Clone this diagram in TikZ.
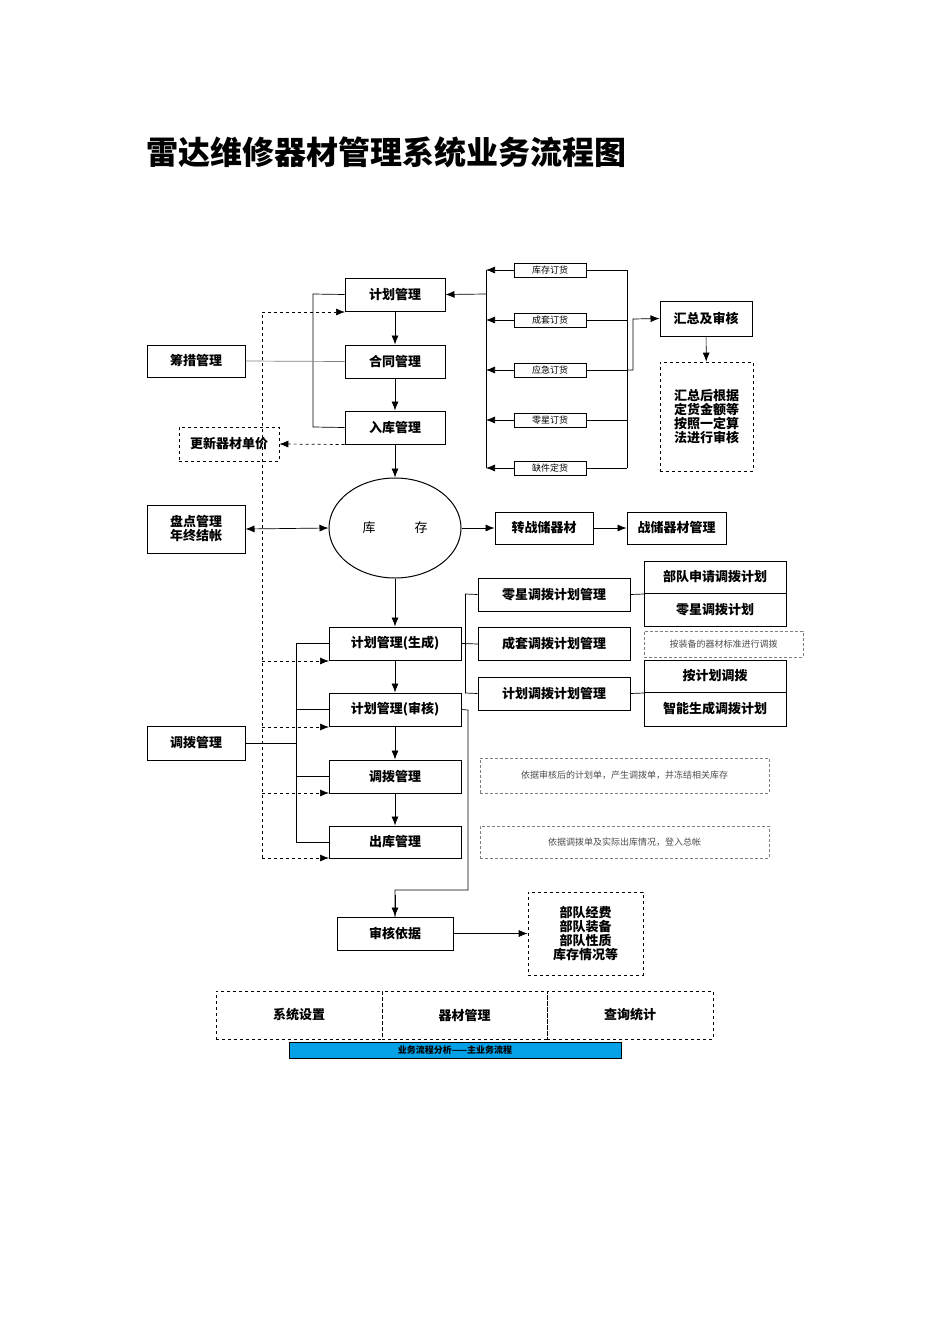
\documentclass[tikz,border=0pt]{standalone}
\usepackage{fontspec}
\setmainfont{Noto Sans CJK SC}
\usetikzlibrary{arrows.meta,shapes.geometric}
\begin{document}
\begin{tikzpicture}[x=1pt,y=-1pt,line width=0.7pt,
 bx/.style={draw,line width=1pt,minimum width=0pt,inner sep=0pt,font=\bfseries\fontsize{13}{14}\selectfont},
 sm/.style={draw,line width=1pt,inner sep=0pt,font=\fontsize{9}{10}\selectfont},
 db/.style={draw,dashed,inner sep=0pt},
 ar/.style={-{Latex[length=9pt,width=7pt]}}]
\useasboundingbox (0,0) rectangle (950,1344);
\node[anchor=west,font=\bfseries\fontsize{32}{34}\selectfont] (title) at (143,152) {雷达维修器材管理系统业务流程图};
\newcommand\bxat[6]{\node[#1,minimum width={(#4)-(#2)},minimum height={(#5)-(#3)}] (#6) at ({((#2)+(#4))/2},{((#3)+(#5))/2})}
\bxat{bx}{345}{278}{445}{311}{jh} {计划管理};
\bxat{bx}{345}{345}{445}{378}{ht} {合同管理};
\bxat{bx}{345}{411}{445}{444}{rk} {入库管理};
\bxat{bx}{147}{345}{245}{377}{cc} {筹措管理};
\bxat{db,font=\bfseries\fontsize{13}{14}\selectfont}{179}{427}{279}{461}{gx} {更新器材单价};
\foreach \y/\t/\n in {270/库存订货/o1,320/成套订货/o2,370/应急订货/o3,420/零星订货/o4,468/缺件定货/o5}{
 \bxat{sm}{514}{\y-7}{586}{\y+7}{\n} {\t};}
\bxat{bx}{660}{301}{752}{336}{hz} {汇总及审核};
\bxat{db,align=center,font=\bfseries\fontsize{13}{14}\selectfont}{660}{362}{753}{471}{hzt} {汇总后根据\\定货金额等\\按照一定算\\法进行审核};
\node[draw,line width=1pt,ellipse,minimum width=132,minimum height=100,inner sep=0pt,font=\fontsize{13}{14}\selectfont] (kc) at (395,528) {库\hspace{3em}存};
\bxat{bx,align=center}{147}{505}{245}{553}{pd} {盘点管理\\年终结帐};
\bxat{bx}{495}{512}{593}{544}{zz} {转战储器材};
\bxat{bx}{627}{512}{726}{544}{zc} {战储器材管理};
\bxat{bx}{329}{627}{461}{660}{p1} {计划管理(生成)};
\bxat{bx}{329}{693}{461}{726}{p2} {计划管理(审核)};
\bxat{bx}{329}{760}{461}{793}{p3} {调拨管理};
\bxat{bx}{329}{826}{461}{858}{p4} {出库管理};
\bxat{bx}{147}{726}{245}{760}{db} {调拨管理};
\bxat{bx}{478}{578}{630}{611}{r1} {零星调拨计划管理};
\bxat{bx}{478}{627}{630}{660}{r2} {成套调拨计划管理};
\bxat{bx}{478}{677}{630}{710}{r3} {计划调拨计划管理};
\bxat{bx}{644}{561}{786}{593}{s1} {部队申请调拨计划};
\bxat{bx}{644}{593}{786}{626}{s2} {零星调拨计划};
\bxat{bx}{644}{660}{786}{692}{s3} {按计划调拨};
\bxat{bx}{644}{692}{786}{726}{s4} {智能生成调拨计划};
\bxat{db,densely dashed,gray,text=gray!60!black,font=\fontsize{9}{10}\selectfont}{644}{631}{803}{657}{n1} {按装备的器材标准进行调拨};
\bxat{db,densely dashed,gray,text=gray!60!black,font=\fontsize{9}{10}\selectfont}{480}{758}{769}{793}{n2} {依据审核后的计划单，产生调拨单，并冻结相关库存};
\bxat{db,densely dashed,gray,text=gray!60!black,font=\fontsize{9}{10}\selectfont}{480}{826}{769}{858}{n3} {依据调拨单及实际出库情况，登入总帐};
\bxat{bx}{337}{917}{453}{950}{sh} {审核依据};
\bxat{db,align=center,font=\bfseries\fontsize{13}{14}\selectfont}{528}{892}{643}{975}{sht} {部队经费\\部队装备\\部队性质\\库存情况等};
\bxat{db,font=\bfseries\fontsize{13}{14}\selectfont}{216}{991}{382}{1039}{m1} {系统设置};
\bxat{db,font=\bfseries\fontsize{13}{14}\selectfont}{382}{991}{547}{1039}{m2} {器材管理};
\bxat{db,font=\bfseries\fontsize{13}{14}\selectfont}{547}{991}{713}{1039}{m3} {查询统计};
\bxat{draw,fill=cyan!90!blue,font=\bfseries\fontsize{9}{10}\selectfont}{289}{1042}{621}{1058}{bar} {业务流程分析——主业务流程};
% top flow
\draw[ar] (jh) -- (ht); \draw[ar] (ht) -- (rk); \draw[ar] (rk) -- (kc);
\draw (jh.west) -- (313,294) -- (313,427) -- (rk.west);
\draw[gray] (cc.east) -- (ht.west);
\draw[dashed] (262,858) -- (262,312); \draw[dashed,ar] (262,312) -- (345,312);
\draw[dashed,ar] (rk.south west) -- (gx.east);
\draw (486,270) -- (486,468);
\foreach \n in {o1,o2,o3,o4,o5} \draw[ar] (\n.west) -- (486,0 |- \n.west);
\draw[ar] (486,294) -- (jh.east);
\draw (627,270) -- (627,468);
\foreach \n in {o1,o2,o3,o4,o5} \draw (\n.east) -- (627,0 |- \n.east);
\draw[ar] (627,370) -- (633,370) -- (633,319) -- (hz.west);
\draw[ar] (hz) -- (hzt);
\draw[{Latex[length=9pt,width=7pt]}-{Latex[length=9pt,width=7pt]}] (pd.east) -- (kc.west);
\draw[ar] (kc.east) -- (zz.west); \draw[ar] (zz) -- (zc);
% lower flow
\draw[ar] (kc) -- (p1); \draw[ar] (p1) -- (p2); \draw[ar] (p2) -- (p3); \draw[ar] (p3) -- (p4);
\draw (db.east) -- (296,743);
\draw (296,644) -- (296,842);
\foreach \n in {p1,p2,p3,p4} \draw (296,0 |- \n.west) -- (\n.west);
\foreach \y in {661,727,793,858} \draw[dashed,ar] (262,\y) -- (329,\y);
\draw (p1.east) -- (478,644); \draw (465,594) -- (465,693);
\draw (465,594) -- (r1.west); \draw (465,693) -- (r3.west);
\draw (r1.east) -- (644,594); \draw (r3.east) -- (644,693);
\draw (p2.east) -- (468,710) -- (468,890) -- (395,890) -- (395,917);
\draw[ar] (395,895) -- (sh.north);
\draw[ar] (sh.east) -- (sht.west);
\end{tikzpicture}
\end{document}
